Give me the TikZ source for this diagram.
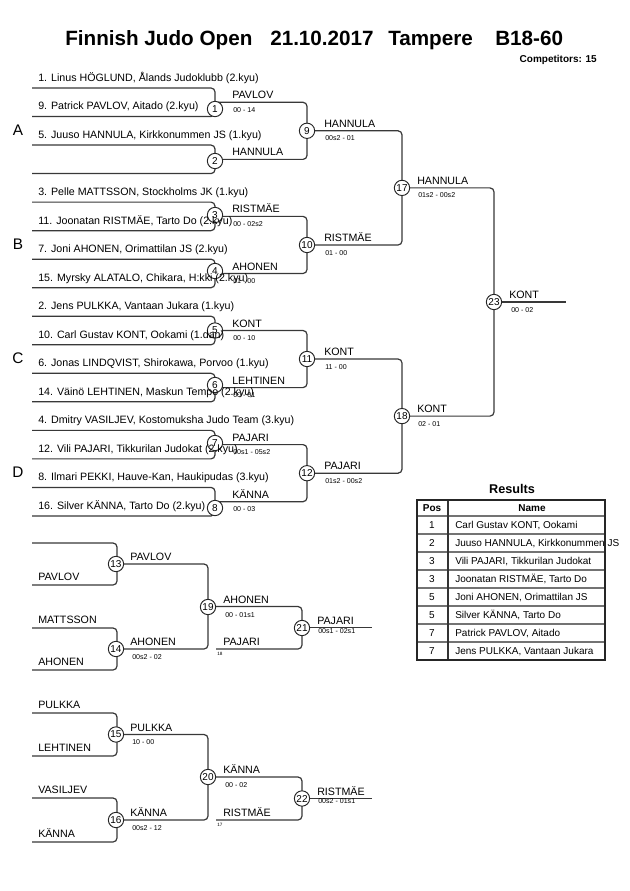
\documentclass[tikz,border=0pt]{standalone}
\usepackage{fontspec}
\setmainfont{Liberation Sans}
\begin{document}
\begin{tikzpicture}[x=0.75pt,y=-0.75pt,
  ln/.style={draw=black!78,line width=0.9pt,rounded corners=3pt},
  num/.style={circle,draw=black!85,line width=0.7pt,fill=white,inner sep=0pt,minimum size=11.5pt,font=\fontsize{7.5}{8}\selectfont},
  ent/.style={anchor=base west,inner sep=0pt,font=\fontsize{8}{9}\selectfont},
  lab/.style={anchor=base west,inner sep=0pt,font=\fontsize{8}{9}\selectfont},
  sc/.style={anchor=base west,inner sep=0pt,font=\fontsize{5.3}{6}\selectfont},
  tinyl/.style={anchor=base west,inner sep=0pt,font=\fontsize{3.5}{4}\selectfont},
  grp/.style={anchor=center,inner sep=0pt,font=\fontsize{11.5}{12}\selectfont},
  ttl/.style={anchor=base west,inner sep=0pt,font=\bfseries\fontsize{15.5}{17}\selectfont},
  cell/.style={anchor=base,inner sep=0pt,font=\fontsize{7.5}{9}\selectfont},
]
\fill[white] (0,0) rectangle (630,891);
\useasboundingbox (0,0) rectangle (630,891);

% ---------- title ----------
\node[ttl] (ti1) at (65,45.5) {Finnish Judo Open};
\node[ttl] (ti2) at (270,45.5) {21.10.2017};
\node[ttl] (ti3) at (388,45.5) {Tampere};
\node[ttl] (ti4) at (495,45.5) {B18-60};
\node[anchor=base east,inner sep=0pt,font=\bfseries\fontsize{7.5}{9}\selectfont] (comp) at (597,63) {Competitors: 15};

% ---------- main bracket coordinates ----------
\foreach \i in {1,...,16} { \coordinate (e\i) at (32,{88+28.53*(\i-1)}); }
\coordinate (o1) at (215,102.3);
\coordinate (o2) at (215,159.4);
\coordinate (o3) at (215,216.4);
\coordinate (o4) at (215,273.5);
\coordinate (o5) at (215,330.5);
\coordinate (o6) at (215,387.6);
\coordinate (o7) at (215,444.6);
\coordinate (o8) at (215,501.7);
\coordinate (o9) at (307,130.8);
\coordinate (o10) at (307,245.0);
\coordinate (o11) at (307,359.0);
\coordinate (o12) at (307,473.2);
\coordinate (o17) at (402,187.9);
\coordinate (o18) at (402,416.1);
\coordinate (o23) at (494,302.0);
\coordinate (fin) at (566,302.0);

\draw[ln] (e1) -| (o1) |- (e2);
\draw[ln] (e3) -| (o2) |- (e4);
\draw[ln] (e5) -| (o3) |- (e6);
\draw[ln] (e7) -| (o4) |- (e8);
\draw[ln] (e9) -| (o5) |- (e10);
\draw[ln] (e11) -| (o6) |- (e12);
\draw[ln] (e13) -| (o7) |- (e14);
\draw[ln] (e15) -| (o8) |- (e16);
\draw[ln] (o1) -| (o9) |- (o2);
\draw[ln] (o3) -| (o10) |- (o4);
\draw[ln] (o5) -| (o11) |- (o6);
\draw[ln] (o7) -| (o12) |- (o8);
\draw[ln] (o9) -| (o17) |- (o10);
\draw[ln] (o11) -| (o18) |- (o12);
\draw[ln] (o17) -| (o23) |- (o18);
\draw[ln] (o23) -- (fin);

% circles
\node[num] (m1) at (215,109) {1};
\node[num] (m2) at (215,161) {2};
\node[num] (m3) at (215,215) {3};
\node[num] (m4) at (215,271) {4};
\node[num] (m5) at (215,330.5) {5};
\node[num] (m6) at (215,385) {6};
\node[num] (m7) at (215,443) {7};
\node[num] (m8) at (215,508) {8};
\node[num] (m9) at (o9) {9};
\node[num] (m10) at (o10) {10};
\node[num] (m11) at (o11) {11};
\node[num] (m12) at (o12) {12};
\node[num] (m17) at (o17) {17};
\node[num] (m18) at (o18) {18};
\node[num] (m23) at (o23) {23};

% entries
\node[ent] (t1) at (38,81.5) {1. Linus HÖGLUND, Ålands Judoklubb (2.kyu)};
\node[ent] (t2) at (38,110) {9. Patrick PAVLOV, Aitado (2.kyu)};
\node[ent] (t3) at (38,138.6) {5. Juuso HANNULA, Kirkkonummen JS (1.kyu)};
\node[ent] (t5) at (38,195.6) {3. Pelle MATTSSON, Stockholms JK (1.kyu)};
\node[ent] (t6) at (38,224.2) {11. Joonatan RISTMÄE, Tarto Do (2.kyu)};
\node[ent] (t7) at (38,252.7) {7. Joni AHONEN, Orimattilan JS (2.kyu)};
\node[ent] (t8) at (38,281.2) {15. Myrsky ALATALO, Chikara, H:kki (2.kyu)};
\node[ent] (t9) at (38,309.7) {2. Jens PULKKA, Vantaan Jukara (1.kyu)};
\node[ent] (t10) at (38,338.3) {10. Carl Gustav KONT, Ookami (1.dan)};
\node[ent] (t11) at (38,366.8) {6. Jonas LINDQVIST, Shirokawa, Porvoo (1.kyu)};
\node[ent] (t12) at (38,395.3) {14. Väinö LEHTINEN, Maskun Tempo (2.kyu)};
\node[ent] (t13) at (38,423.9) {4. Dmitry VASILJEV, Kostomuksha Judo Team (3.kyu)};
\node[ent] (t14) at (38,452.4) {12. Vili PAJARI, Tikkurilan Judokat (2.kyu)};
\node[ent] (t15) at (38,480.9) {8. Ilmari PEKKI, Hauve-Kan, Haukipudas (3.kyu)};
\node[ent] (t16) at (38,509.5) {16. Silver KÄNNA, Tarto Do (2.kyu)};

% group letters
\node[grp] (gA) at (18,130) {A};
\node[grp] (gB) at (18,244) {B};
\node[grp] (gC) at (18,358) {C};
\node[grp] (gD) at (18,472) {D};

% winners and scores, round 1
\node[lab] (w1) at (232,98.8) {PAVLOV};
\node[sc] (s1) at (233,112.3) {00 - 14};
\node[lab] (w2) at (232,155.9) {HANNULA};
\node[lab] (w3) at (232,212.9) {RISTMÄE};
\node[sc] (s3) at (233,226.4) {00 - 02s2};
\node[lab] (w4) at (232,270) {AHONEN};
\node[sc] (s4) at (233,283.5) {01 - 00};
\node[lab] (w5) at (232,327) {KONT};
\node[sc] (s5) at (233,340.5) {00 - 10};
\node[lab] (w6) at (232,384.1) {LEHTINEN};
\node[sc] (s6) at (233,397.6) {00 - 01};
\node[lab] (w7) at (232,441.1) {PAJARI};
\node[sc] (s7) at (233,454.6) {00s1 - 05s2};
\node[lab] (w8) at (232,498.2) {KÄNNA};
\node[sc] (s8) at (233,511.7) {00 - 03};
% round 2
\node[lab] (w9) at (324,127.3) {HANNULA};
\node[sc] (s9) at (325,140.8) {00s2 - 01};
\node[lab] (w10) at (324,241.5) {RISTMÄE};
\node[sc] (s10) at (325,255) {01 - 00};
\node[lab] (w11) at (324,355.5) {KONT};
\node[sc] (s11) at (325,369) {11 - 00};
\node[lab] (w12) at (324,469.7) {PAJARI};
\node[sc] (s12) at (325,483.2) {01s2 - 00s2};
% round 3
\node[lab] (w17) at (417,184.4) {HANNULA};
\node[sc] (s17) at (418,197.9) {01s2 - 00s2};
\node[lab] (w18) at (417,412.6) {KONT};
\node[sc] (s18) at (418,426.1) {02 - 01};
% final
\node[lab] (w23) at (509,298.5) {KONT};
\node[sc] (s23) at (511,312) {00 - 02};

% ---------- repechage A/B ----------
\coordinate (r1) at (32,543);
\coordinate (r2) at (32,585);
\coordinate (r3) at (32,628);
\coordinate (r4) at (32,670);
\coordinate (q13) at (117,564);
\coordinate (q14) at (117,649);
\coordinate (q19) at (208,606.5);
\coordinate (p18) at (216,649);
\coordinate (q21) at (302,627.8);
\coordinate (f21) at (372,627.8);
\draw[ln] (r1) -| (q13) |- (r2);
\draw[ln] (r3) -| (q14) |- (r4);
\draw[ln] (q13) -| (q19) |- (q14);
\draw[ln] (q19) -| (q21) |- (p18);
\draw[ln] (q21) -- (f21);
\node[num] (m13) at (116,564) {13};
\node[num] (m14) at (116,649) {14};
\node[num] (m19) at (208,607) {19};
\node[num] (m21) at (302,628) {21};
\node[ent] (u2) at (38,580.5) {PAVLOV};
\node[ent] (u3) at (38,623.5) {MATTSSON};
\node[ent] (u4) at (38,665.5) {AHONEN};
\node[lab] (w13) at (130,560.5) {PAVLOV};
\node[lab] (w14) at (130,645.5) {AHONEN};
\node[sc] (s14) at (132,659) {00s2 - 02};
\node[lab] (w19) at (223,603.5) {AHONEN};
\node[sc] (s19) at (225,617) {00 - 01s1};
\node[lab] (w18b) at (223,645.5) {PAJARI};
\node[tinyl] (n18) at (217,655) {18};
\node[lab] (w21) at (317,624.3) {PAJARI};
\node[sc] (s21) at (318,633) {00s1 - 02s1};

% ---------- repechage C/D ----------
\coordinate (r5) at (32,713);
\coordinate (r6) at (32,756);
\coordinate (r7) at (32,798);
\coordinate (r8) at (32,842);
\coordinate (q15) at (117,734.5);
\coordinate (q16) at (117,820);
\coordinate (q20) at (208,777);
\coordinate (p17) at (216,820);
\coordinate (q22) at (302,798.5);
\coordinate (f22) at (372,798.5);
\draw[ln] (r5) -| (q15) |- (r6);
\draw[ln] (r7) -| (q16) |- (r8);
\draw[ln] (q15) -| (q20) |- (q16);
\draw[ln] (q20) -| (q22) |- (p17);
\draw[ln] (q22) -- (f22);
\node[num] (m15) at (116,734.5) {15};
\node[num] (m16) at (116,820) {16};
\node[num] (m20) at (208,777) {20};
\node[num] (m22) at (302,798.5) {22};
\node[ent] (u5) at (38,708.5) {PULKKA};
\node[ent] (u6) at (38,751.5) {LEHTINEN};
\node[ent] (u7) at (38,793.5) {VASILJEV};
\node[ent] (u8) at (38,837.5) {KÄNNA};
\node[lab] (w15) at (130,731) {PULKKA};
\node[sc] (s15) at (132,744.5) {10 - 00};
\node[lab] (w16) at (130,816.5) {KÄNNA};
\node[sc] (s16) at (132,830) {00s2 - 12};
\node[lab] (w20) at (223,773.5) {KÄNNA};
\node[sc] (s20) at (225,787) {00 - 02};
\node[lab] (w17b) at (223,816.5) {RISTMÄE};
\node[tinyl] (n17) at (217,826) {17};
\node[lab] (w22) at (317,795) {RISTMÄE};
\node[sc] (s22) at (318,803.5) {00s2 - 01s1};

% ---------- results table ----------
\node[anchor=base,inner sep=0pt,font=\bfseries\fontsize{9.5}{11}\selectfont] (res) at (512,493) {Results};
\foreach \j in {0,...,7} { \draw[black!55,line width=1pt] (417,{516+18*\j}) -- (605,{516+18*\j}); }
\draw[black!80,line width=0.8pt] (448,500) -- (448,660);
\draw[black!85,line width=1.4pt] (417,500) rectangle (605,660);
\node[cell,font=\bfseries\fontsize{7.5}{9}\selectfont] (hp) at (432,511) {Pos};
\node[cell,font=\bfseries\fontsize{7.5}{9}\selectfont] (hn) at (532,511) {Name};
\foreach \j/\p/\n in {1/1/{Carl Gustav KONT, Ookami},
                      2/2/{Juuso HANNULA, Kirkkonummen JS},
                      3/3/{Vili PAJARI, Tikkurilan Judokat},
                      4/3/{Joonatan RISTMÄE, Tarto Do},
                      5/5/{Joni AHONEN, Orimattilan JS},
                      6/5/{Silver KÄNNA, Tarto Do},
                      7/7/{Patrick PAVLOV, Aitado},
                      8/7/{Jens PULKKA, Vantaan Jukara}} {
  \node[cell] (rp\j) at (432,{510+18*\j}) {\p};
  \node[cell,anchor=base west] (rn\j) at (455,{510+18*\j}) {\n};
}
\end{tikzpicture}
\end{document}
